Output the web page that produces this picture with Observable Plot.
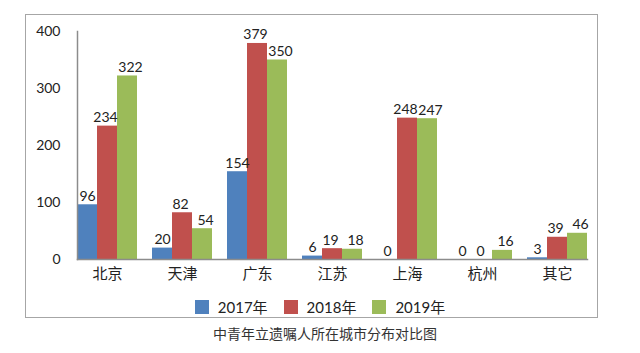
<!DOCTYPE html>
<html>
<head>
<meta charset="utf-8">
<script src="https://cdn.jsdelivr.net/npm/d3@7"></script>
<script src="https://cdn.jsdelivr.net/npm/@observablehq/plot@0.6"></script>
<style>
  html, body { margin: 0; padding: 0; background: #fff; }
  #wrap { position: relative; width: 640px; height: 353px; overflow: hidden; font-family: Lato, "Noto Sans CJK SC", sans-serif; }
  #chart { position: absolute; left: 0; top: 0; }
  #box { position: absolute; left: 25px; top: 14px; width: 571px; height: 302px; border: 1.5px solid #a6a6a6; pointer-events: none; }
  #legend { position: absolute; top: 296px; left: 0; width: 640px; display: flex; justify-content: center; padding-left: 0px; box-sizing: border-box; font-size: 15px; color: #222; }
  .item { display: flex; align-items: center; margin: 0 8px; }
  .sw { width: 14px; height: 14px; margin-right: 9px; }
  #caption { position: absolute; top: 323px; left: 0; width: 650px; text-align: center; font-family: "Noto Sans CJK SC", serif; font-size: 14px; color: #333; }
</style>
</head>
<body>
<div id="wrap">
  <div id="chart"></div>
  <div id="box"></div>
  <div id="legend"></div>
  <div id="caption">中青年立遗嘱人所在城市分布对比图</div>
</div>
<script>
const cities = ["北京", "天津", "广东", "江苏", "上海", "杭州", "其它"];
const years = ["2017年", "2018年", "2019年"];
const v2017 = [96, 20, 154, 6, 0, 0, 3];
const v2018 = [234, 82, 379, 19, 248, 0, 39];
const v2019 = [322, 54, 350, 18, 247, 16, 46];
const colors = ["#4F81BD", "#C0504D", "#9BBB59"];
const yTicks = [0, 100, 200, 300, 400];

const series = [v2017, v2018, v2019];
const data = [];
cities.forEach((c, i) => {
  years.forEach((y, j) => data.push({city: c, year: y, value: series[j][i]}));
});

const labelShift = [0, -2, 3];
const textMarks = years.map((yr, j) =>
  Plot.text(data.filter(d => d.year === yr), {
    fx: "city", x: "year", y: "value", text: d => String(d.value),
    lineAnchor: "bottom", dy: -4, dx: labelShift[j], fontSize: 14, fill: "#222"
  })
);

const chart = Plot.plot({
  width: 640,
  height: 292,
  marginTop: 31,
  marginBottom: 33,
  marginLeft: 67,
  marginRight: 43,
  style: {fontFamily: 'Lato, "Noto Sans CJK SC", sans-serif', color: "#222", background: "transparent"},
  fx: {domain: cities, paddingInner: 0.2, paddingOuter: 0.1, label: null},
  x: {domain: years, padding: 0, axis: null},
  y: {domain: [0, 400], label: null},
  color: {domain: years, range: colors},
  marks: [
    Plot.barY(data, {fx: "city", x: "year", y: "value", fill: "year"}),
    ...textMarks,
    Plot.frame({anchor: "bottom", facet: "super", stroke: "#8c8c8c", strokeWidth: 1.5}),
    Plot.frame({anchor: "left", facet: "super", stroke: "#8c8c8c", strokeWidth: 1.5}),
    Plot.axisY({ticks: yTicks, tickSize: 0, tickPadding: 17, fontSize: 14, label: null}),
    Plot.axisFx({anchor: "bottom", tickSize: 0, tickPadding: 9, fontSize: 15, label: null})
  ]
});
document.getElementById("chart").appendChild(chart);

const legend = document.getElementById("legend");
years.forEach((y, i) => {
  const it = document.createElement("div");
  it.className = "item";
  const sw = document.createElement("div");
  sw.className = "sw";
  sw.style.background = colors[i];
  const t = document.createElement("span");
  t.textContent = y;
  it.appendChild(sw); it.appendChild(t);
  legend.appendChild(it);
});
</script>
</body>
</html>
